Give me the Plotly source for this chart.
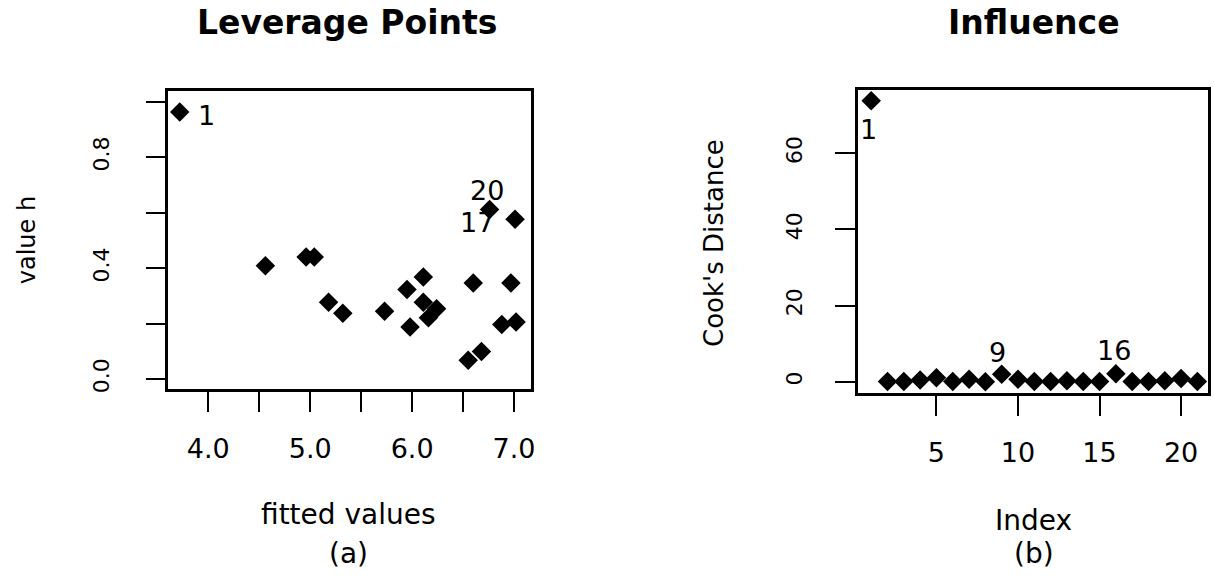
import plotly.graph_objects as go

W, H = 1214, 581

# ---- data: panel (a) leverage ----
fitted = [3.72, 4.56, 4.96, 5.04, 5.18, 5.32, 5.73, 5.95, 5.98, 6.11, 6.11,
          6.16, 6.24, 6.60, 6.55, 6.68, 6.76, 7.01, 6.97, 6.88, 7.02]
hat = [0.964, 0.409, 0.440, 0.440, 0.277, 0.237, 0.245, 0.323, 0.188, 0.368, 0.277,
       0.221, 0.254, 0.347, 0.068, 0.099, 0.612, 0.577, 0.347, 0.197, 0.206]
lev_labels = ["1", "20", "17"]
lev_label_pts = [(3.72, 0.964), (6.76, 0.612), (6.76, 0.612)]

# ---- data: panel (b) Cook's distance ----
index = list(range(1, 22))
cooks = [73.8, 0.1, 0.1, 0.5, 1.1, 0.1, 0.7, 0.05, 2.0, 0.7, 0.1,
         0.1, 0.3, 0.1, 0.1, 2.1, 0.1, 0.1, 0.3, 0.9, 0.1]
cook_labels = ["1", "9", "16"]

lev_xticks = [4.0, 4.5, 5.0, 5.5, 6.0, 6.5, 7.0]
lev_xtext = ["4.0", "", "5.0", "", "6.0", "", "7.0"]
lev_yticks = [0.0, 0.2, 0.4, 0.6, 0.8, 1.0]
lev_ytext = ["0.0", "", "0.4", "", "0.8", ""]
cook_xticks = [5, 10, 15, 20]
cook_yticks = [0, 20, 40, 60]

FONT = "DejaVu Sans"


def px(x):
    return x / W


def py(y):
    return 1 - y / H


fig = go.Figure()
fig.add_trace(go.Scatter(x=fitted, y=hat, mode="markers", xaxis="x", yaxis="y",
                         marker=dict(symbol="diamond", size=15, color="black"),
                         showlegend=False))
fig.add_trace(go.Scatter(x=index, y=cooks, mode="markers", xaxis="x2", yaxis="y2",
                         marker=dict(symbol="diamond", size=15, color="black"),
                         showlegend=False))

axis_common = dict(showline=True, linecolor="black", linewidth=2.5, mirror=True,
                   ticks="outside", ticklen=20, tickwidth=1.5, tickcolor="black",
                   showgrid=False, zeroline=False, color="black")

fig.update_layout(
    width=W, height=H,
    margin=dict(l=0, r=0, t=0, b=0),
    paper_bgcolor="white", plot_bgcolor="white",
    xaxis=dict(domain=[px(169), px(533)], range=[3.609, 7.169], anchor="y",
               tickvals=lev_xticks, ticktext=lev_xtext,
               tickfont=dict(family=FONT, size=27), ticklabelstandoff=14, **axis_common),
    yaxis=dict(domain=[py(392), py(92)], range=[-0.037, 1.038], anchor="x",
               tickvals=lev_yticks, ticktext=lev_ytext, tickangle=-90,
               tickfont=dict(family=FONT, size=22), ticklabelstandoff=28, **axis_common),
    xaxis2=dict(domain=[px(861), px(1212)], range=[0.2, 21.65], anchor="y2",
                tickvals=cook_xticks, tickfont=dict(family=FONT, size=27),
                ticklabelstandoff=14, **axis_common),
    yaxis2=dict(domain=[py(396), py(91)], range=[-3.0, 76.5], anchor="x2",
                tickvals=cook_yticks, tickangle=-90,
                tickfont=dict(family=FONT, size=22), ticklabelstandoff=25, **axis_common),
)

ann = []


def paper_text(text, x, y, size, angle=0):
    return dict(text=text, x=px(x), y=py(y), xref="paper", yref="paper",
                xanchor="center", yanchor="middle", textangle=angle,
                showarrow=False, font=dict(family=FONT, size=size, color="black"))


# titles
ann.append(paper_text("<b>Leverage Points</b>", 348, 23, 33))
ann.append(paper_text("<b>Influence</b>", 1037, 23, 33))
# axis titles
ann.append(paper_text("fitted values", 350, 518, 28))
ann.append(paper_text("(a)", 350, 557, 28))
ann.append(paper_text("Index", 1037, 524, 28))
ann.append(paper_text("(b)", 1037, 557, 28))
ann.append(paper_text("value h", 27, 242, 24, -90))
ann.append(paper_text("Cook's Distance", 717, 245, 26, -90))

# point labels panel (a)
lev_shifts = [(27, -4), (-3, 19), (-13, -13)]
for lab, (xv, yv), (dx, dy) in zip(lev_labels, lev_label_pts, lev_shifts):
    ann.append(dict(text=lab, x=xv, y=yv, xref="x", yref="y", xshift=dx, yshift=dy,
                    xanchor="center", yanchor="middle",
                    showarrow=False, font=dict(family=FONT, size=27, color="black")))
# point labels panel (b)
cook_shifts = [(-3, -29), (-4, 22), (-2, 23)]
for lab, (dx, dy) in zip(cook_labels, cook_shifts):
    i = int(lab)
    ann.append(dict(text=lab, x=index[i - 1], y=cooks[i - 1], xref="x2", yref="y2",
                    xshift=dx, yshift=dy, xanchor="center", yanchor="middle",
                    showarrow=False, font=dict(family=FONT, size=27, color="black")))

fig.update_layout(annotations=ann)
fig.write_html("out.html", config={"displayModeBar": False},
               post_script="document.body.style.margin='0px';document.body.style.overflow='hidden';")
